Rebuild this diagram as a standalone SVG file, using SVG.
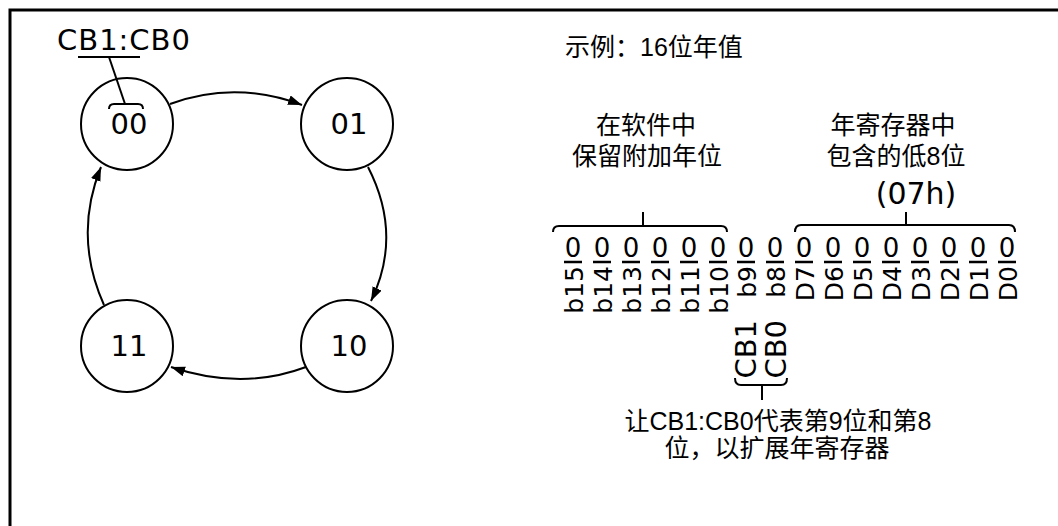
<svg xmlns="http://www.w3.org/2000/svg" width="1058" height="526" viewBox="0 0 1058 526">
<defs>
<style>
.st{fill:#fff;stroke:#000;stroke-width:2}
.ln{fill:none;stroke:#000;stroke-width:2}
.lbl{font-family:"DejaVu Sans",Verdana,sans-serif;font-size:29px;fill:#000;text-anchor:middle}
.cn{font-family:"Liberation Sans","Noto Sans CJK SC",sans-serif;font-size:25px;fill:#000;text-anchor:middle}
.bit{font-family:"DejaVu Sans",Verdana,sans-serif;font-size:26px;fill:#000;text-anchor:middle}
.rot{font-family:"DejaVu Sans",Verdana,sans-serif;font-size:25px;fill:#000;text-anchor:end}
.rotb{font-family:"DejaVu Sans",Verdana,sans-serif;font-size:29px;fill:#000;text-anchor:end}
</style>
<marker id="ah" markerUnits="userSpaceOnUse" markerWidth="15" markerHeight="11" refX="14" refY="5" orient="auto">
<path d="M0,0 L14,5 L0,10 z" fill="#000"/>
</marker>
</defs>
<rect width="1058" height="526" fill="#fff"/>
<path d="M10,526 V10 H1058" fill="none" stroke="#000" stroke-width="3"/>

<g id="connectors">
<path class="ln" d="M170,104 Q235,80 302,105" marker-end="url(#ah)"/>
<path class="ln" d="M368,167 Q403,235 371,301" marker-end="url(#ah)"/>
<path class="ln" d="M306,367 Q242,391 171,367" marker-end="url(#ah)"/>
<path class="ln" d="M104,305 Q73,236 101,167" marker-end="url(#ah)"/>
</g>

<g id="node-00">
<circle class="st" cx="127" cy="124" r="46"/>
<text class="lbl" x="129" y="134">00</text>
</g>
<g id="node-01">
<circle class="st" cx="347" cy="124" r="46"/>
<text class="lbl" x="349" y="134">01</text>
</g>
<g id="node-10">
<circle class="st" cx="347" cy="346" r="46"/>
<text class="lbl" x="349" y="356">10</text>
</g>
<g id="node-11">
<circle class="st" cx="127" cy="346" r="46"/>
<text class="lbl" x="129" y="356">11</text>
</g>

<g id="cb-label">
<text x="57" y="50" style="font-family:'DejaVu Sans',Verdana,sans-serif;font-size:29px;letter-spacing:1px;fill:#000">CB1:CB0</text>
<path class="ln" d="M78,57 H140"/>
<path class="ln" d="M109,57 L125,104"/>
<path class="ln" d="M109,109 Q109,104 114,104 H138 Q143,104 143,109"/>
</g>

<g id="example-title">
<text x="565" y="56" style="font-family:'Liberation Sans','Noto Sans CJK SC',sans-serif;font-size:25px;fill:#000">示例：16位年值</text>
</g>

<g id="software-group">
<text class="cn" x="646" y="134">在软件中</text>
<text class="cn" x="647" y="165">保留附加年位</text>
<path class="ln" d="M553,232 Q553,226 559,226 H721 Q727,226 727,232"/>
<path class="ln" d="M643,226 V212"/>
</g>

<g id="register-group">
<text class="cn" x="893" y="134">年寄存器中</text>
<text class="cn" x="896" y="165">包含的低8位</text>
<text class="lbl" x="916" y="204" style="font-size:30px">(07h)</text>
<path class="ln" d="M795,232 Q795,225 801,225 H1009 Q1015,225 1015,232"/>
<path class="ln" d="M906,225 V212"/>
</g>

<g id="bits">
<g class="bit">
<text x="573" y="257">0</text>
<text x="602" y="257">0</text>
<text x="631" y="257">0</text>
<text x="660" y="257">0</text>
<text x="689" y="257">0</text>
<text x="718" y="257">0</text>
<text x="746" y="257">0</text>
<text x="775" y="257">0</text>
<text x="804" y="257">0</text>
<text x="833" y="257">0</text>
<text x="862" y="257">0</text>
<text x="891" y="257">0</text>
<text x="920" y="257">0</text>
<text x="949" y="257">0</text>
<text x="978" y="257">0</text>
<text x="1007" y="257">0</text>
</g>
<path d="M564,262h18M593,262h18M622,262h18M651,262h18M680,262h18M709,262h18M737,262h18M766,262h18M795,262h18M824,262h18M853,262h18M882,262h18M911,262h18M940,262h18M969,262h18M998,262h18" stroke="#000" stroke-width="2.5" fill="none"/>
<g class="rot">
<text transform="translate(582.5,266) rotate(-90)">b15</text>
<text transform="translate(611.5,266) rotate(-90)">b14</text>
<text transform="translate(640.5,266) rotate(-90)">b13</text>
<text transform="translate(669.5,266) rotate(-90)">b12</text>
<text transform="translate(698.5,266) rotate(-90)">b11</text>
<text transform="translate(727.5,266) rotate(-90)">b10</text>
<text transform="translate(755.5,266) rotate(-90)">b9</text>
<text transform="translate(784.5,266) rotate(-90)">b8</text>
<text transform="translate(813.5,266) rotate(-90)">D7</text>
<text transform="translate(842.5,266) rotate(-90)">D6</text>
<text transform="translate(871.5,266) rotate(-90)">D5</text>
<text transform="translate(900.5,266) rotate(-90)">D4</text>
<text transform="translate(929.5,266) rotate(-90)">D3</text>
<text transform="translate(958.5,266) rotate(-90)">D2</text>
<text transform="translate(987.5,266) rotate(-90)">D1</text>
<text transform="translate(1016.5,266) rotate(-90)">D0</text>
</g>
</g>

<g id="cb-bits">
<text class="rotb" transform="translate(756,320) rotate(-90)">CB1</text>
<text class="rotb" transform="translate(786,320) rotate(-90)">CB0</text>
<path class="ln" d="M735,378 Q735,385 741,385 H781 Q787,385 787,378"/>
<path class="ln" d="M762,385 V400"/>
<text class="cn" x="778" y="430">让CB1:CB0代表第9位和第8</text>
<text class="cn" x="777" y="457">位，以扩展年寄存器</text>
</g>
</svg>
